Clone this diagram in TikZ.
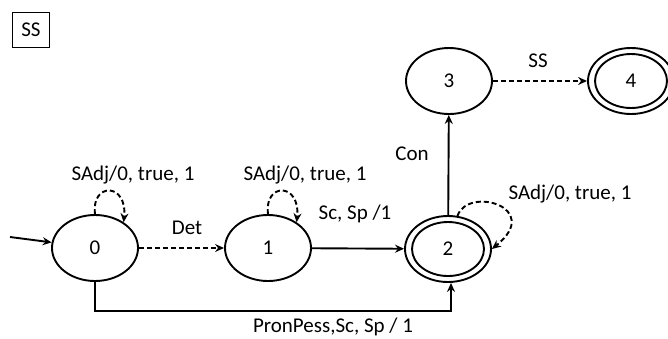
\documentclass[tikz,border=0pt]{standalone}
\usepackage{fontspec}
\setmainfont{Carlito}
\usetikzlibrary{shapes.geometric,arrows.meta}
\begin{document}
\begin{tikzpicture}[x=1pt,y=-1pt,
  every node/.style={font=\fontsize{21}{24}\selectfont},
  state/.style={ellipse,draw,line width=1.9pt,minimum width=86pt,minimum height=66pt,inner sep=0pt},
  arr/.style={line width=1.9pt,-{Stealth[length=9pt,width=8pt,inset=3pt]}},
  darr/.style={arr,dash pattern=on 5pt off 3pt},
  lbl/.style={inner sep=0pt,anchor=center}]
\useasboundingbox (0,0) rectangle (668,338);
\begin{scope}
\clip (0,0) rectangle (668,338);
% title box
\node[draw,line width=1.9pt,minimum width=37pt,minimum height=35pt,inner sep=0pt] (title) at (31,30) {SS};
% states
\node[state] (n0) at (95,248) {0};
\node[state] (n1) at (268,248) {1};
\node[state] (n2) at (448,249) {2};
\node[state] (n3) at (449,81) {3};
\node[state] (n4) at (631,81) {4};
\draw[line width=1.9pt] (n2.center) ellipse [x radius=36, y radius=27];
\draw[line width=1.9pt] (n4.center) ellipse [x radius=36, y radius=27];
% initial arrow
\coordinate (start) at (10,237);
\draw[arr] (start) -- (n0);
% transitions
\draw[darr] (n0) -- (n1);
\draw[arr] (n1) -- (n2);
\draw[arr] (n2) -- (n3);
\draw[darr] (n3) -- (n4);
\draw[arr] (n0.south) -- ++(0,29) -| ([xshift=3pt]n2.south);
% loops
\draw[darr] (n0.90) .. controls +(-4,-32) and +(4,-40) .. (n0.42);
\draw[darr] (n1.90) .. controls +(-4,-32) and +(4,-40) .. (n1.42);
\draw[darr] (n2.74) .. controls +(10,-30) and +(52,-42) .. (n2.0);
% labels
\node[lbl] (l0) at (133,175) {SAdj/0, true, 1};
\node[lbl] (l1) at (305,175) {SAdj/0, true, 1};
\node[lbl] (l2) at (570,194) {SAdj/0, true, 1};
\node[lbl] (ldet) at (187,228) {Det};
\node[lbl] (lsc) at (355,214) {Sc, Sp /1};
\node[lbl] (lcon) at (412,154) {Con};
\node[lbl] (lss) at (538,61) {SS};
\node[lbl] (lpron) at (333,327) {PronPess,Sc, Sp / 1};
\end{scope}
\end{tikzpicture}
\end{document}
